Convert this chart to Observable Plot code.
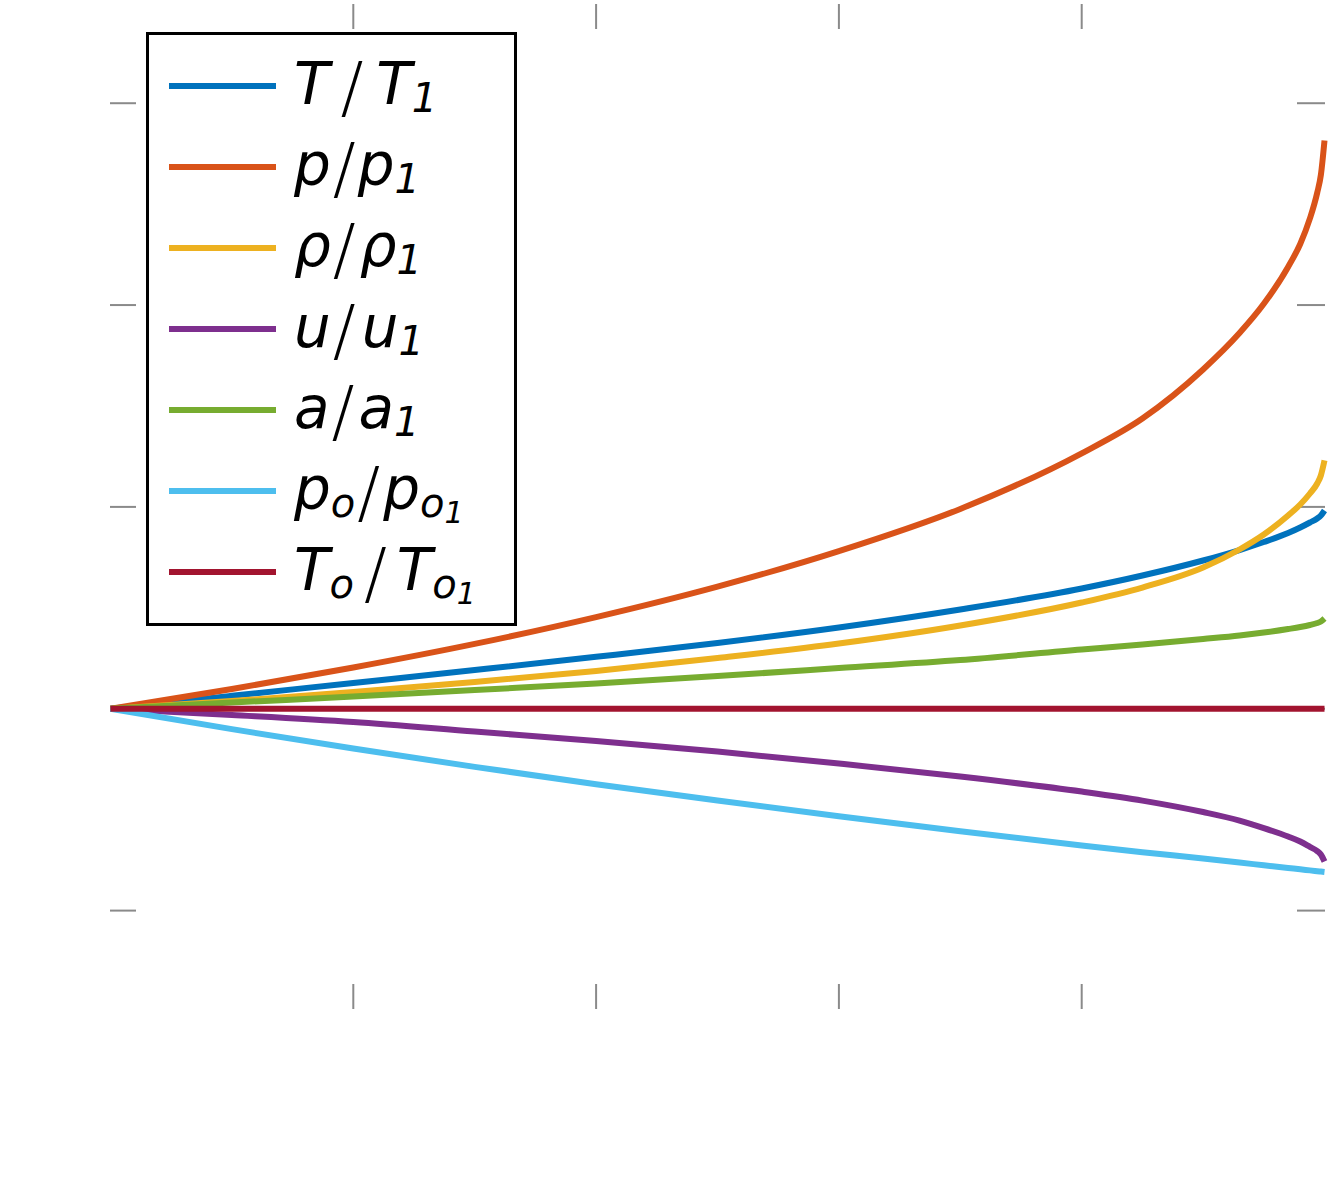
<!DOCTYPE html>
<html>
<head>
<meta charset="utf-8">
<script src="https://cdn.jsdelivr.net/npm/d3@7"></script>
<script src="https://cdn.jsdelivr.net/npm/@observablehq/plot@0.6"></script>
<style>
html, body { margin: 0; padding: 0; background: #fff; }
#wrap { position: relative; width: 1333px; height: 1179px; overflow: hidden; }
#wrap svg { position: absolute; left: 0; top: 0; }
</style>
</head>
<body>
<div id="wrap"></div>
<script>
// ---- data ----
const xPos = [0, 0.5, 1, 1.5, 2, 2.5, 3, 3.5, 4, 4.25, 4.5, 4.65, 4.75, 4.85, 4.9, 4.94, 4.97, 4.985, 5];
const TT1  = [1, 1.0320, 1.0639, 1.0959, 1.1286, 1.1628, 1.2012, 1.2458, 1.2978, 1.3300, 1.3672, 1.3932, 1.4130, 1.4353, 1.4490, 1.4614, 1.4713, 1.4787, 1.4911];
const pp1  = [1, 1.0488, 1.1021, 1.1606, 1.2270, 1.3025, 1.3905, 1.4950, 1.6328, 1.7190, 1.8404, 1.9306, 2.0030, 2.0944, 2.1514, 2.2146, 2.2782, 2.3221, 2.4078];
const rr1  = [1, 1.0191, 1.0414, 1.0662, 1.0934, 1.1256, 1.1615, 1.2062, 1.2631, 1.3003, 1.3498, 1.3945, 1.4316, 1.4787, 1.5060, 1.5332, 1.5580, 1.5778, 1.6150];
const uu1  = [1, 0.9844, 0.9670, 0.9435, 0.9200, 0.8940, 0.8642, 0.8320, 0.7948, 0.7725, 0.7441, 0.7230, 0.7044, 0.6834, 0.6710, 0.6577, 0.6474, 0.6388, 0.6214];
const aa1  = [1, 1.0154, 1.0302, 1.0463, 1.0624, 1.0810, 1.1008, 1.1207, 1.1467, 1.1591, 1.1727, 1.1814, 1.1888, 1.1975, 1.2024, 1.2074, 1.2123, 1.2161, 1.2235];
const po1  = [1, 0.9495, 0.9014, 0.8560, 0.8132, 0.7725, 0.7339, 0.6965, 0.6613, 0.6447, 0.6288, 0.6189, 0.6122, 0.6055, 0.6023, 0.5996, 0.5976, 0.5966, 0.5956];
const To1  = [1, 1, 1, 1, 1, 1, 1, 1, 1, 1, 1, 1, 1, 1, 1, 1, 1, 1, 1];

const seriesValues = [TT1, pp1, rr1, uu1, aa1, po1, To1];
const seriesColors = ["#0072BD", "#D95319", "#EDB120", "#7E2F8E", "#77AC30", "#4DBEEE", "#A2142F"];
const xTicks = [1, 2, 3, 4];
const yTicks = [0.5, 1, 1.5, 2, 2.5];
const xDomain = [0, 5];
const yDomain = [0.255, 2.747];

// legend labels: numerator, numerator subscript, denominator, denominator subscript, nested subscript
const labNum    = ["T", "p", "ρ", "u", "a", "p", "T"];
const labNumSub = ["", "", "", "", "", "o", "o"];
const labDen    = ["T", "p", "ρ", "u", "a", "p", "T"];
const labDenSub = ["1", "1", "1", "1", "1", "o", "o"];
const labDenSS  = ["", "", "", "", "", "1", "1"];
const gapBefore = [11, 2, 2, 2, 2, 2, 10];
const gapAfter  = [13, 2, 4, 6, 4, 3, 10];

// ---- chart ----
const tickColor = "#8a8a8a";
const lines = seriesValues.map((vals, k) =>
  Plot.line(xPos.map((x, i) => ({x, y: vals[i]})), {
    x: "x", y: "y", stroke: seriesColors[k], strokeWidth: 6,
    strokeLinecap: "butt", strokeLinejoin: "round", curve: "monotone-x"
  })
);

const chart = Plot.plot({
  width: 1333,
  height: 1179,
  marginLeft: 110,
  marginRight: 9,
  marginTop: 3,
  marginBottom: 170,
  style: {background: "#fff", overflow: "visible"},
  x: {domain: xDomain},
  y: {domain: yDomain},
  marks: [
    Plot.axisX(xTicks, {anchor: "bottom", tickSize: -25, fill: "none", label: null, stroke: tickColor, strokeWidth: 2}),
    Plot.axisX(xTicks, {anchor: "top", tickSize: -25, fill: "none", label: null, stroke: tickColor, strokeWidth: 2}),
    Plot.axisY(yTicks, {anchor: "left", tickSize: -26, fill: "none", label: null, stroke: tickColor, strokeWidth: 2}),
    Plot.axisY(yTicks, {anchor: "right", tickSize: -28, fill: "none", label: null, stroke: tickColor, strokeWidth: 2}),
    ...lines
  ]
});
document.getElementById("wrap").appendChild(chart);

// ---- legend (MATLAB-style box) ----
const lg = d3.create("svg").attr("width", 1333).attr("height", 1179);
const box = {x: 147.5, y: 33.5, w: 368, h: 591};
const rowY0 = 86, rowStep = 81;
lg.append("rect").attr("x", box.x).attr("y", box.y).attr("width", box.w).attr("height", box.h)
  .attr("fill", "#fff").attr("stroke", "#000").attr("stroke-width", 3);

const mainSize = 58, subSize = 40, subSubSize = 30, slashSize = 68;
seriesColors.forEach((c, k) => {
  const cy = rowY0 + k * rowStep;
  lg.append("line").attr("x1", 169).attr("x2", 276).attr("y1", cy).attr("y2", cy)
    .attr("stroke", c).attr("stroke-width", 6);
  const t = lg.append("text").attr("x", 294).attr("y", cy + 18)
    .attr("font-family", "'DejaVu Sans', sans-serif").attr("font-style", "italic")
    .attr("font-size", mainSize).attr("fill", "#000");
  t.append("tspan").text(labNum[k]);
  let shift = 0;
  if (labNumSub[k]) {
    t.append("tspan").attr("font-size", subSize).attr("dy", 8).text(labNumSub[k]);
    shift = 8;
  }
  t.append("tspan").attr("font-style", "normal").attr("font-weight", 300).attr("font-size", slashSize)
    .attr("dx", gapBefore[k]).attr("dy", 7 - shift).text("/");
  t.append("tspan").attr("font-size", mainSize).attr("dx", gapAfter[k]).attr("dy", -7).text(labDen[k]);
  t.append("tspan").attr("font-size", subSize).attr("dy", 8).text(labDenSub[k]);
  if (labDenSS[k]) t.append("tspan").attr("font-size", subSubSize).attr("dy", 6).text(labDenSS[k]);
});
document.getElementById("wrap").appendChild(lg.node());
</script>
</body>
</html>
